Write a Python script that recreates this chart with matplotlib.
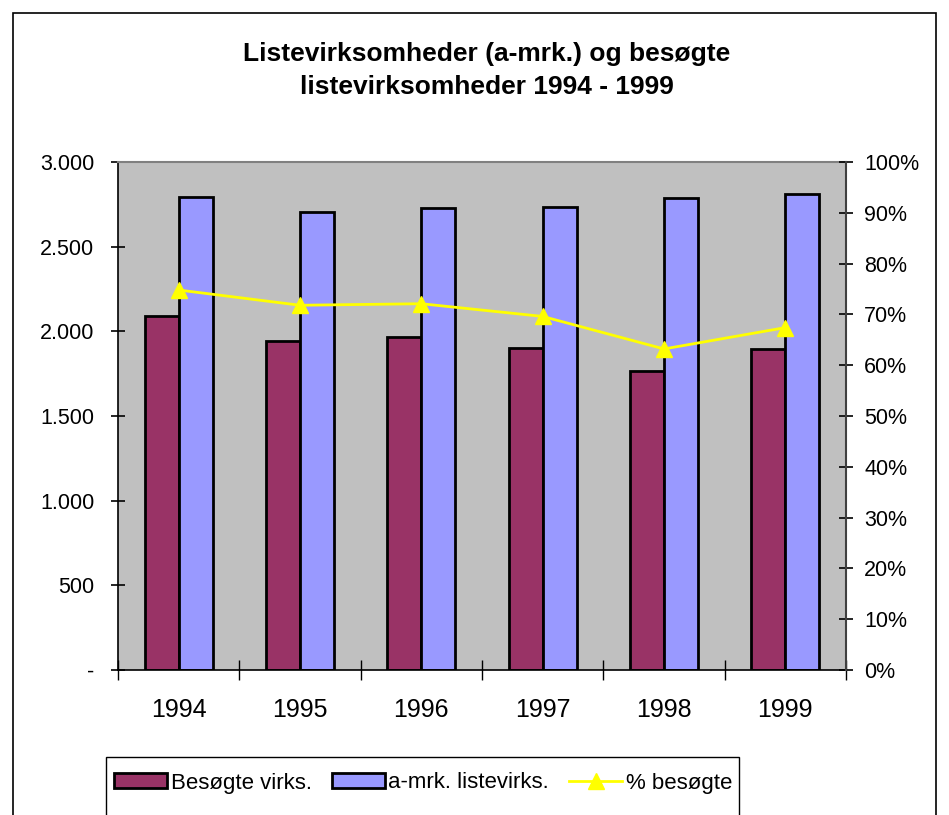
import numpy as np
import matplotlib.pyplot as plt
from matplotlib.patches import Rectangle, Patch
from matplotlib.lines import Line2D
from matplotlib.ticker import FuncFormatter

plt.rcParams['font.family'] = ['Liberation Sans', 'DejaVu Sans']

# Data
years = ['1994', '1995', '1996', '1997', '1998', '1999']
besogte = [2090, 1943, 1967, 1902, 1766, 1896]
listevirks = [2793, 2705, 2728, 2734, 2787, 2811]
pct_besogte = [74.8, 71.8, 72.1, 69.6, 63.2, 67.4]

PURPLE = '#993366'
BLUE = '#9999FF'
BG = '#C0C0C0'
YELLOW = '#FFFF00'

fig = plt.figure(figsize=(9.49, 8.15), dpi=100)
W, H = 949, 815

# outer chart border
fig.patches.append(Rectangle((13 / W, -0.05), (936 - 13) / W, (H - 13) / H + 0.05,
                             transform=fig.transFigure, fill=False,
                             edgecolor='black', linewidth=1.2))

ax = fig.add_axes([118 / W, 145 / H, 728 / W, 508 / H])
ax.set_facecolor(BG)

x = np.arange(len(years))
w = 0.28
ax.bar(x - w / 2, besogte, w, color=PURPLE, edgecolor='black', linewidth=2, zorder=2)
ax.bar(x + w / 2, listevirks, w, color=BLUE, edgecolor='black', linewidth=2, zorder=2)

ax.set_xlim(-0.5, len(years) - 0.5)
ax.set_ylim(0, 3000)
ax.set_yticks(np.arange(0, 3001, 500))
ax.yaxis.set_major_formatter(FuncFormatter(
    lambda v, p: '-' if v == 0 else f'{int(v):,}'.replace(',', '.')))

ax.set_xticks(x)
ax.set_xticklabels(years, fontsize=18)
ax.set_xticks(np.arange(-0.5, len(years), 1), minor=True)
ax.tick_params(axis='x', which='major', length=0, pad=20)
ax.tick_params(axis='x', which='minor', direction='inout', length=14, width=1)
ax.tick_params(axis='y', direction='inout', length=10, width=1.2, labelsize=15.5, pad=12)

ax.spines['top'].set_color('#808080')
ax.spines['top'].set_linewidth(1.5)
ax.spines['right'].set_visible(False)
ax.spines['left'].set_linewidth(1.2)
ax.spines['bottom'].set_linewidth(1.2)

ax2 = ax.twinx()
ax2.plot(x, pct_besogte, color=YELLOW, linewidth=2, marker='^', markersize=11,
         markeredgecolor=YELLOW, zorder=5)
ax2.set_ylim(0, 100)
ax2.set_yticks(np.arange(0, 101, 10))
ax2.yaxis.set_major_formatter(FuncFormatter(lambda v, p: f'{int(v)}%'))
ax2.tick_params(axis='y', direction='inout', length=10, width=1.2, labelsize=15.5, pad=8)
ax2.spines['right'].set_color('#404040')
ax2.spines['right'].set_linewidth(1.5)
for s in ['top', 'left', 'bottom']:
    ax2.spines[s].set_visible(False)

fig.text(487 / W, 1 - 54 / H, 'Listevirksomheder (a-mrk.) og besøgte',
         ha='center', va='center', fontsize=19, fontweight='bold')
fig.text(487 / W, 1 - 87 / H, 'listevirksomheder 1994 - 1999',
         ha='center', va='center', fontsize=19, fontweight='bold')

# legend box
fig.patches.append(Rectangle((106 / W, -0.05), (739 - 106) / W, (H - 757) / H + 0.05,
                             transform=fig.transFigure, fill=False,
                             edgecolor='black', linewidth=1))
handles = [Patch(facecolor=PURPLE, edgecolor='black', linewidth=2),
           Patch(facecolor=BLUE, edgecolor='black', linewidth=2),
           Line2D([], [], color=YELLOW, linewidth=2, marker='^', markersize=11,
                  markeredgecolor=YELLOW)]
fig.legend(handles, ['Besøgte virks.', 'a-mrk. listevirks.', '% besøgte'],
           loc='center', bbox_to_anchor=(423 / W, 1 - 783 / H), ncol=3,
           frameon=False, fontsize=16, handlelength=2.4, handleheight=0.65,
           handletextpad=0.15, columnspacing=0.9, borderpad=0.2)

fig.savefig('out.png', dpi=100)
